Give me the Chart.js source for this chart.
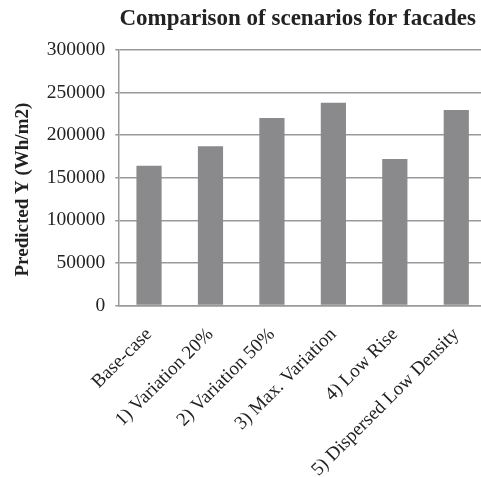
<!DOCTYPE html>
<html>
<head>
<meta charset="utf-8">
<script src="https://cdn.jsdelivr.net/npm/chart.js@4/dist/chart.umd.min.js"></script>
<style>
  html, body { margin: 0; padding: 0; background: #fff; overflow: hidden; }
  #wrap { width: 487px; height: 477px; }
</style>
</head>
<body>
<div id="wrap"><canvas id="chart"></canvas></div>
<script>
const scenarios = ['Base-case', '1) Variation 20%', '2) Variation 50%', '3) Max. Variation', '4) Low Rise', '5) Dispersed Low Density'];
const predictedY = [164000, 187000, 220000, 238000, 172000, 229500];
const yTicks = [0, 50000, 100000, 150000, 200000, 250000, 300000];

const serif = "'Liberation Serif', 'Times New Roman', serif";

// title roughly centred over the plot area
const plotTitle = {
    id: 'plotTitle',
    afterDraw(chart) {
        const { ctx, chartArea } = chart;
        ctx.save();
        ctx.font = `bold 23px ${serif}`;
        ctx.fillStyle = '#222';
        ctx.textAlign = 'center';
        ctx.textBaseline = 'middle';
        ctx.fillText('Comparison of scenarios for facades', (chartArea.left + chartArea.right) / 2 - 5, 19);
        ctx.restore();
    }
};

new Chart(document.getElementById('chart'), {
    type: 'bar',
    data: {
        labels: scenarios,
        datasets: [{
            data: predictedY,
            backgroundColor: '#8a8a8d',
            barPercentage: 0.41,
            categoryPercentage: 1
        }]
    },
    options: {
        responsive: true,
        maintainAspectRatio: false,
        animation: false,
        layout: { padding: { top: 50, left: 3, right: 0, bottom: -14 } },
        plugins: { legend: { display: false }, tooltip: { enabled: false } },
        scales: {
            x: {
                grid: { display: false },
                border: { display: true, color: '#999', width: 1.5 },
                ticks: { color: '#222', font: { family: serif, size: 19 }, minRotation: 45, maxRotation: 45, padding: 10 }
            },
            y: {
                min: 0,
                max: 300000,
                afterBuildTicks(axis) { axis.ticks = yTicks.map(v => ({ value: v })); },
                grid: { color: '#999', lineWidth: 1.5, tickLength: 3 },
                border: { display: true, color: '#999', width: 1.5 },
                ticks: { color: '#222', font: { family: serif, size: 19.5 }, padding: 10, callback: v => String(v) },
                title: { display: true, text: 'Predicted Y (Wh/m2)\u00a0\u00a0\u00a0\u00a0\u00a0', color: '#222', font: { family: serif, size: 19, weight: 'bold' }, padding: { top: 9, bottom: 2 } }
            }
        }
    },
    plugins: [plotTitle]
});
</script>
</body>
</html>
